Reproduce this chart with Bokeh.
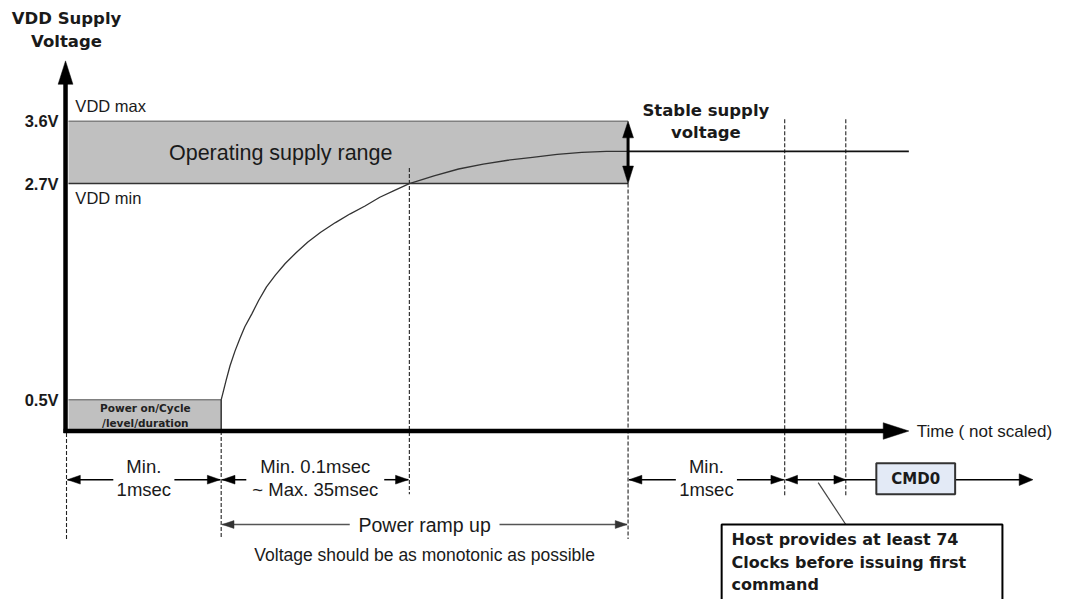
from bokeh.plotting import figure
from bokeh.core.properties import value
from bokeh.embed import file_html
from bokeh.resources import INLINE

# ---------------- schematic data (time axis not scaled) ----------------
# vertical positions of the voltage levels on the schematic
volt_labels = ["3.6V", "2.7V", "0.5V"]
volt_pos = [124, 188, 410]
level_names = ["VDD max", "VDD min"]
level_name_pos = [108, 203]
axis_zero = 442            # 0 V / time axis
axis_left = 66

# time markers (schematic)
t_power_on = 67
t_ramp_start = 224
t_vdd_min = 415
t_stable = 637
t_clocks = 796
t_cmd = 858
t_end = 922

# power ramp-up curve
ramp_t = [224, 226, 229, 233, 238, 243, 248, 255, 262, 270, 279, 289, 300, 312, 325,
          340, 355, 370, 385, 400, 415, 440, 465, 490, 515, 540, 565, 590, 615, 637]
ramp_v = [410, 402, 390, 375, 360, 347, 335, 322, 308, 294, 282, 270, 259, 248, 238,
          228, 219, 211, 202, 195, 188, 180, 173, 168, 164, 161, 158, 156, 155, 155]
stable_v = 155

# timing intervals
dim_start = [t_power_on, t_ramp_start, t_stable]
dim_end = [t_ramp_start, t_vdd_min, t_clocks]
dim_top = ["Min.", "Min. 0.1msec", "Min."]
dim_bottom = ["1msec", "~ Max. 35msec", "1msec"]
dim_gap = [31, 70, 31]
dim_row = 492

ramp_label = "Power ramp up"
ramp_note = "Voltage should be as monotonic as possible"
ramp_row = 538

host_lines = ["Host provides at least 74", "Clocks before issuing first", "command"]

# ---------------- figure ----------------
p = figure(width=1064, height=599, x_range=(0, 1080), y_range=(615, 0),
           output_backend="svg", toolbar_location=None, min_border=0,
           x_axis_type=None, y_axis_type=None)
p.grid.visible = False
p.outline_line_color = None
p.background_fill_color = "white"

INK = "#1a1a1a"
SANS = value("Liberation Sans")
BOLD = value("DejaVu Sans")


def head(tx, ty, dx, dy, length, half):
    bx, by = tx - dx * length, ty - dy * length
    px, py = -dy, dx
    return [tx, bx + half * px, bx - half * px], [ty, by + half * py, by - half * py]


heads_x, heads_y = [], []
gheads_x, gheads_y = [], []


def add_head(lst_x, lst_y, *a):
    hx, hy = head(*a)
    lst_x.append(hx)
    lst_y.append(hy)


# operating supply range band
p.quad(left=axis_left + 3, right=t_stable, top=volt_pos[0], bottom=volt_pos[1],
       fill_color="#c0c0c0", line_color=None)
p.line([axis_left + 3, t_stable], [volt_pos[0]] * 2, line_color="#808080", line_width=1.5)
p.line([axis_left + 3, t_stable], [volt_pos[1]] * 2, line_color="#333333", line_width=1.5)

# power on box
p.quad(left=axis_left + 3, right=t_ramp_start, top=volt_pos[2], bottom=axis_zero,
       fill_color="#c0c0c0", line_color=None)
p.line([axis_left + 3, t_ramp_start], [volt_pos[2]] * 2, line_color="#808080", line_width=1.5)
p.line([t_ramp_start, t_ramp_start], [volt_pos[2], axis_zero], line_color="#333333", line_width=1.5)

# dashed markers
dash_x = [t_power_on, t_ramp_start, t_vdd_min, t_stable, t_clocks, t_cmd]
dash_top = [axis_zero + 2, axis_zero, 172, volt_pos[1], 122, 122]
dash_bot = [553, 553, 507, 553, 508, 508]
p.segment(x0=dash_x, y0=dash_top, x1=dash_x, y1=dash_bot, line_color="#222222",
          line_width=1.1, line_dash="4 2")

# ramp curve and stable supply line
p.line(ramp_t, ramp_v, line_color="#333333", line_width=1.3)
p.line([t_stable, t_end], [stable_v, stable_v], line_color="#111111", line_width=1.8)

# axes
p.line([axis_left, axis_left], [axis_zero + 2, 84], line_color="black", line_width=4.5)
add_head(heads_x, heads_y, axis_left, 62, 0, -1, 24, 7.5)
p.line([axis_left - 2, 898], [axis_zero, axis_zero], line_color="black", line_width=4.5)
add_head(heads_x, heads_y, 922, axis_zero, 1, 0, 26, 8.5)

# double arrow on band
p.line([t_stable, t_stable], [volt_pos[0] + 8, volt_pos[1] - 8], line_color="black", line_width=3)
add_head(heads_x, heads_y, t_stable, volt_pos[0], 0, -1, 17, 5.5)
add_head(heads_x, heads_y, t_stable, volt_pos[1], 0, 1, 18, 5.5)

# dimension arrows
for s, e, g in zip(dim_start, dim_end, dim_gap):
    c = (s + e) / 2
    p.line([s + 1, c - g], [dim_row] * 2, line_color="black", line_width=1.5)
    p.line([c + g, e - 1], [dim_row] * 2, line_color="black", line_width=1.5)
    add_head(heads_x, heads_y, s + 1, dim_row, -1, 0, 13, 4.5)
    add_head(heads_x, heads_y, e - 1, dim_row, 1, 0, 13, 4.5)

# clocks interval + CMD0 line
p.line([t_clocks + 1, 889], [dim_row] * 2, line_color="black", line_width=1.5)
add_head(heads_x, heads_y, t_clocks + 1, dim_row, -1, 0, 12, 4.5)
add_head(heads_x, heads_y, t_cmd, dim_row, 1, 0, 12, 4.5)
p.line([969, 1036], [dim_row] * 2, line_color="black", line_width=1.5)
add_head(heads_x, heads_y, 1048, dim_row, 1, 0, 14, 6)

# power ramp up arrow
rc = (t_ramp_start + t_stable) / 2
p.line([t_ramp_start + 1, rc - 76], [ramp_row] * 2, line_color="#555555", line_width=1.3)
p.line([rc + 76, t_stable - 1], [ramp_row] * 2, line_color="#555555", line_width=1.3)
add_head(gheads_x, gheads_y, t_ramp_start + 1, ramp_row, -1, 0, 12, 4)
add_head(gheads_x, gheads_y, t_stable - 1, ramp_row, 1, 0, 12, 4)

p.patches(heads_x, heads_y, fill_color="black", line_color="black", line_width=0.5)
p.patches(gheads_x, gheads_y, fill_color="#333333", line_color="#333333", line_width=0.5)

# CMD0 box
p.quad(left=889, right=969, top=475, bottom=507, fill_color="#e3eaf6",
       line_color="#333333", line_width=2)

# callout
p.line([858, 830], [538, 495], line_color="#444444", line_width=1.2)
p.quad(left=732, right=1017, top=538, bottom=640, fill_color="white",
       line_color="black", line_width=2)

# ---------------- texts ----------------
p.text(x=[67, 67], y=[18, 42], text=["VDD Supply", "Voltage"], text_font=BOLD,
       text_font_style="bold", text_font_size="16.5px", text_align="center",
       text_baseline="middle", text_color=INK)
p.text(x=[59] * 3, y=volt_pos, text=volt_labels, text_font=SANS, text_font_style="bold",
       text_font_size="16.5px", text_align="right", text_baseline="middle", text_color=INK)
p.text(x=[76] * 2, y=level_name_pos, text=level_names, text_font=SANS,
       text_font_size="16.5px", text_align="left", text_baseline="middle", text_color=INK)
p.text(x=[171], y=[157], text=["Operating supply range"], text_font=SANS,
       text_font_size="21.5px", text_align="left", text_baseline="middle", text_color=INK)
p.text(x=[716, 716], y=[113, 136], text=["Stable supply", "voltage"], text_font=BOLD,
       text_font_style="bold", text_font_size="16.5px", text_align="center",
       text_baseline="middle", text_color=INK)
p.text(x=[147, 147], y=[418, 434], text=["Power on/Cycle", "/level/duration"], text_font=BOLD,
       text_font_style="bold", text_font_size="10.5px", text_align="center",
       text_baseline="middle", text_color="#222222")
p.text(x=[930], y=[442], text=["Time ( not scaled)"], text_font=SANS,
       text_font_size="17px", text_align="left", text_baseline="middle", text_color=INK)

mid = [(s + e) / 2 for s, e in zip(dim_start, dim_end)]
p.text(x=mid, y=[478] * 3, text=dim_top, text_font=SANS, text_font_size="18.5px",
       text_align="center", text_baseline="middle", text_color=INK)
p.text(x=mid, y=[502] * 3, text=dim_bottom, text_font=SANS, text_font_size="18.5px",
       text_align="center", text_baseline="middle", text_color=INK)
p.text(x=[rc], y=[ramp_row], text=[ramp_label], text_font=SANS, text_font_size="19.5px",
       text_align="center", text_baseline="middle", text_color=INK)
p.text(x=[rc], y=[569], text=[ramp_note], text_font=SANS, text_font_size="17.5px",
       text_align="center", text_baseline="middle", text_color=INK)
p.text(x=[929], y=[491], text=["CMD0"], text_font=BOLD, text_font_style="bold",
       text_font_size="15px", text_align="center", text_baseline="middle", text_color=INK)
p.text(x=[742] * 3, y=[553, 577, 600], text=host_lines, text_font=BOLD,
       text_font_style="bold", text_font_size="16px", text_align="left",
       text_baseline="middle", text_color=INK)

open("out.html", "w").write(file_html(p, INLINE))
